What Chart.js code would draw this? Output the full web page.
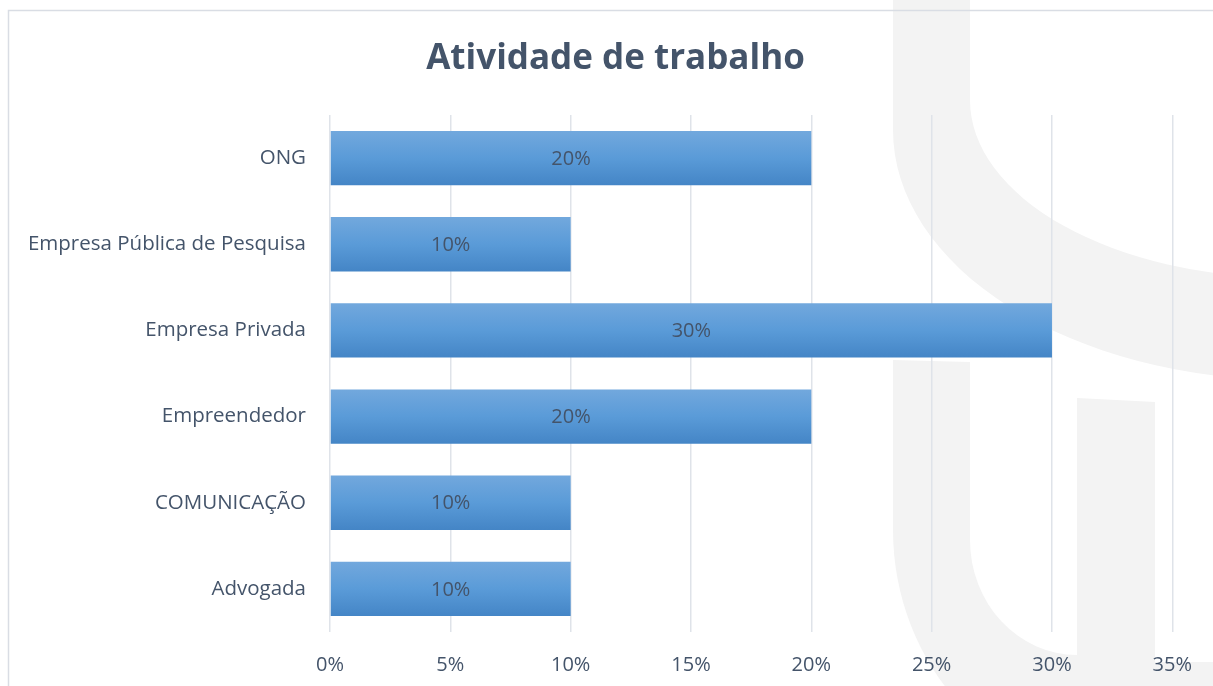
<!DOCTYPE html>
<html>
<head>
<meta charset="utf-8">
<script src="https://cdn.jsdelivr.net/npm/chart.js@4/dist/chart.umd.min.js"></script>
<style>
  html, body { margin: 0; padding: 0; background: #ffffff; }
  #wrap { width: 1213px; height: 686px; }
</style>
</head>
<body>
<div id="wrap"><canvas id="workChart" width="1213" height="686"></canvas></div>
<script>
// Categories and values (percent), top to bottom as in the picture
const categories = ['ONG', 'Empresa Pública de Pesquisa', 'Empresa Privada', 'Empreendedor', 'COMUNICAÇÃO', 'Advogada'];
const shares = [20, 10, 30, 20, 10, 10];
const axisMax = 35;
const axisStep = 5;

const textColor = '#44546a';
const gridColor = '#dfe3e9';
const fontFamily = '"Open Sans", Lato, sans-serif';

// Light grey logo behind the plot, plus the thin chart frame
const backdrop = {
  id: 'backdrop',
  // centre the title on the whole frame, not on the padded box
  afterLayout(chart) {
    chart.titleBlock.left = 18;
    chart.titleBlock.right = 1213;
  },
  beforeDraw(chart) {
    const c = chart.ctx;
    c.save();
    c.fillStyle = '#ffffff';
    c.fillRect(0, 0, chart.width, chart.height);

    c.fillStyle = '#f3f3f3';
    // upper arc
    c.beginPath();
    c.moveTo(893, 0);
    c.lineTo(893, 130);
    c.ellipse(1290, 130, 397, 250, 0, Math.PI, Math.PI / 2, true);
    c.lineTo(1290, 278);
    c.ellipse(1290, 100, 320, 178, 0, Math.PI / 2, Math.PI, false);
    c.lineTo(970, 0);
    c.closePath();
    c.fill();

    // lower U
    c.beginPath();
    c.moveTo(893, 360);
    c.lineTo(893, 530);
    c.ellipse(1130, 530, 237, 250, 0, Math.PI, Math.PI / 2, true);
    c.lineTo(1213, 780);
    c.lineTo(1213, 662);
    c.lineTo(1155, 662);
    c.lineTo(1155, 402);
    c.lineTo(1077, 398);
    c.lineTo(1077, 655);
    c.ellipse(1077, 540, 107, 115, 0, Math.PI / 2, Math.PI, false);
    c.lineTo(970, 362);
    c.closePath();
    c.fill();

    c.strokeStyle = '#d9dde4';
    c.lineWidth = 1.5;
    c.strokeRect(8.5, 10.5, 1300, 800);
    c.restore();
  }
};

// Value labels in the middle of each bar
const barLabels = {
  id: 'barLabels',
  afterDatasetsDraw(chart) {
    const c = chart.ctx;
    const meta = chart.getDatasetMeta(0);
    c.save();
    c.fillStyle = '#44546a';
    c.font = '20px ' + fontFamily;
    c.textAlign = 'center';
    c.textBaseline = 'middle';
    meta.data.forEach((bar, i) => {
      const mid = (bar.x + bar.base) / 2;
      c.fillText(shares[i] + '%', mid, bar.y + 1);
    });
    c.restore();
  }
};

// Vertical blue gradient for each bar
function barFill(ctx) {
  const chart = ctx.chart;
  const yScale = chart.scales.y;
  if (!chart.chartArea || !yScale) return '#5b9bd5';
  const center = yScale.getPixelForValue(ctx.dataIndex);
  const half = (chart.chartArea.height / categories.length) * 0.63 / 2;
  const g = chart.ctx.createLinearGradient(0, center - half, 0, center + half);
  g.addColorStop(0, '#72a8dd');
  g.addColorStop(0.5, '#5a9bd8');
  g.addColorStop(1, '#4485c6');
  return g;
}

new Chart(document.getElementById('workChart'), {
  type: 'bar',
  data: {
    labels: categories,
    datasets: [{
      data: shares,
      backgroundColor: barFill,
      borderWidth: 0,
      categoryPercentage: 1,
      barPercentage: 0.63
    }]
  },
  options: {
    indexAxis: 'y',
    responsive: false,
    animation: false,
    layout: { padding: { left: 8, right: 40, top: 0, bottom: 0 } },
    plugins: {
      legend: { display: false },
      tooltip: { enabled: false },
      title: {
        display: true,
        text: 'Atividade de trabalho',
        color: textColor,
        font: { family: fontFamily, size: 35, weight: 'bold', lineHeight: 1.2 },
        padding: { top: 38, bottom: 35 }
      }
    },
    scales: {
      x: {
        min: 0,
        max: axisMax,
        ticks: {
          stepSize: axisStep,
          color: textColor,
          font: { family: fontFamily, size: 20 },
          padding: 21,
          callback: v => v + '%'
        },
        grid: { color: gridColor, lineWidth: 1.5, drawTicks: false },
        border: { display: false },
        afterFit: s => { s.height = 54; }
      },
      y: {
        ticks: {
          color: textColor,
          font: { family: fontFamily, size: 20.5 },
          padding: 24
        },
        grid: { display: false, drawTicks: false },
        border: { display: false },
        afterFit: s => { s.width = 322; }
      }
    }
  },
  plugins: [backdrop, barLabels]
});
</script>
</body>
</html>
